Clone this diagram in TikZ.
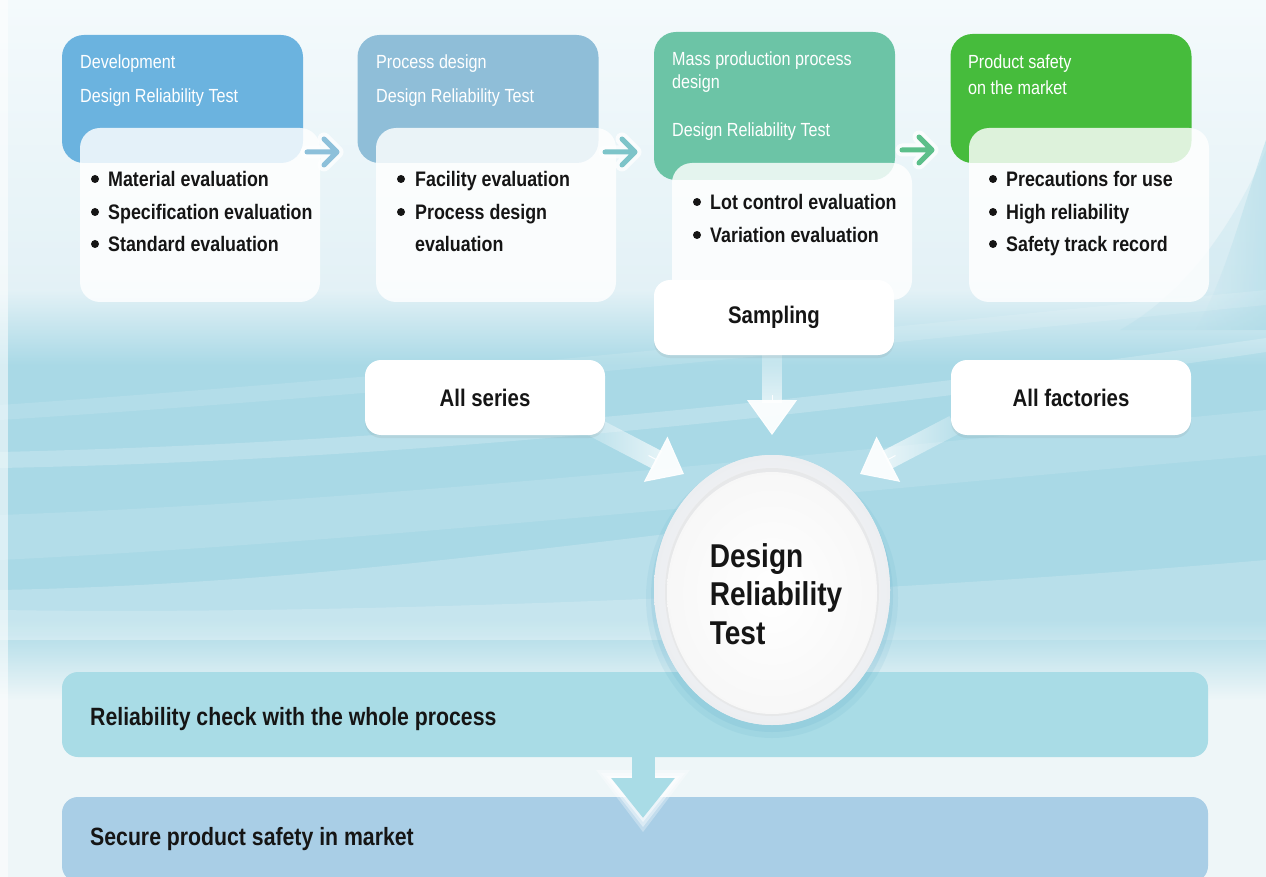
\documentclass[tikz,border=0pt]{standalone}
\usepackage{fontspec}
\setmainfont{Liberation Sans}
\newfontfamily\cond[FakeStretch=0.85]{Liberation Sans}
\usetikzlibrary{shapes.geometric,arrows.meta,shadows,fadings,calc}
\definecolor{bgtop}{HTML}{F4FAFC}
\definecolor{bgmid}{HTML}{E3F1F6}
\definecolor{cyanbg}{HTML}{A9D9E6}
\definecolor{bglow}{HTML}{EEF6F8}
\definecolor{hA}{HTML}{6BB3DF}
\definecolor{hB}{HTML}{8FBED8}
\definecolor{hC}{HTML}{6CC4A6}
\definecolor{hD}{HTML}{46BC3C}
\definecolor{arA}{HTML}{8DC0DA}
\definecolor{arB}{HTML}{7DC4C9}
\definecolor{arC}{HTML}{5CBF8A}
\definecolor{bandA}{HTML}{A9DCE6}
\definecolor{bandB}{HTML}{A9CEE6}
\definecolor{ink}{HTML}{151515}
\definecolor{ringc}{HTML}{ECEEF1}
\definecolor{glowc}{HTML}{5AA9C8}
\tikzfading[name=fadeD, top color=transparent!85, bottom color=transparent!25]
\tikzfading[name=fadeR, left color=transparent!85, right color=transparent!25]
\tikzfading[name=fadeL, right color=transparent!85, left color=transparent!25]
\tikzfading[name=fadeRt, left color=transparent!100, right color=transparent!0]
\begin{document}
\begin{tikzpicture}[x=1pt,y=-1pt,
  hdr/.style={rectangle, rounded corners=22pt, minimum width=241pt, minimum height=128pt, inner sep=0pt},
  cbox/.style={rectangle, rounded corners=20pt, minimum width=240pt, minimum height=174pt, inner sep=0pt, fill=white, fill opacity=.82},
  htxt/.style={anchor=base west, inner sep=0pt, text=white, font=\cond\fontsize{19}{21}\selectfont},
  btxt/.style={anchor=base west, inner sep=0pt, text=ink, font=\cond\bfseries\fontsize{21}{24}\selectfont},
  wbox/.style={rectangle, rounded corners=16pt, minimum width=240pt, minimum height=75pt, fill=white, inner sep=0pt, text=ink, font=\cond\bfseries\fontsize{24}{28}\selectfont, drop shadow={shadow xshift=0pt, shadow yshift=-3pt, opacity=.12}},
  chev/.style={line width=5pt, line cap=round, line join=round},
  halo/.style={line width=13pt, line cap=round, line join=round, white, opacity=.75},
  band/.style={rectangle, rounded corners=16pt, minimum width=1146pt, inner sep=0pt},
  bandtxt/.style={anchor=base west, inner sep=0pt, text=ink, font=\cond\bfseries\fontsize{25}{28}\selectfont},
  bul/.style={fill=ink}
]
\useasboundingbox (0,0) rectangle (1266,877);
% ---------- background ----------
\fill[top color=bgtop, bottom color=bgmid] (0,0) rectangle (1266,290);
\fill[top color=bgmid, bottom color=cyanbg] (0,290) rectangle (1266,365);
\fill[cyanbg] (0,365) rectangle (1266,620);
\fill[top color=cyanbg, bottom color=bglow] (0,620) rectangle (1266,700);
\fill[bglow] (0,700) rectangle (1266,877);
\fill[cyanbg, opacity=.5, path fading=fadeRt] (1266,140) .. controls (1245,200) and (1225,280) .. (1195,330) -- (1266,330) -- cycle;
\fill[cyanbg, opacity=.22] (1266,150) .. controls (1235,220) and (1190,290) .. (1120,330) -- (1266,330) -- cycle;
\fill[white, opacity=.2] (0,452) .. controls (300,445) and (700,420) .. (1266,338) -- (1266,352) .. controls (700,436) and (300,462) .. (0,468) -- cycle;
\fill[white, opacity=.12] (0,515) .. controls (400,500) and (800,455) .. (1266,410) -- (1266,455) .. controls (800,495) and (400,540) .. (0,560) -- cycle;
\fill[white, opacity=.12] (0,405) .. controls (500,370) and (900,325) .. (1266,290) -- (1266,305) .. controls (900,340) and (500,388) .. (0,420) -- cycle;
\fill[white, opacity=.2] (0,590) .. controls (250,585) and (450,560) .. (700,530) -- (700,640) -- (0,640) -- cycle;
\fill[white, opacity=.18] (0,610) .. controls (300,615) and (800,600) .. (1266,560) -- (1266,640) -- (0,640) -- cycle;
\fill[white, opacity=.55] (0,0) rectangle (8,877);
% ---------- bottom bands ----------
\node[band, fill=bandA, minimum height=85pt] (bandone) at (635,714.5) {};
\node[bandtxt] (bandonetxt) at (90,725) {Reliability check with the whole process};
\node[band, fill=bandB, minimum height=85pt] (bandtwo) at (635,839.5) {};
\node[bandtxt] (bandtwotxt) at (90,845) {Secure product safety in market};
\coordinate (bs) at (643,752);
\coordinate (bt) at (643,818);
\fill[white, opacity=.3] (596,770) -- (690,770) -- (643,832) -- cycle;
\fill[white, opacity=.4] (601,773) -- (685,773) -- (643,827) -- cycle;
\fill[white, opacity=.5] (606,776) -- (680,776) -- (643,822) -- cycle;
\draw[bandA, line width=23pt, -{Triangle[length=40pt,width=61pt]}] (bs) -- (bt);
% ---------- top headers ----------
\node[hdr, fill=hA] (hdone) at (182.5,99) {};
\node[hdr, fill=hB] (hdtwo) at (478,99) {};
\node[hdr, fill=hC, minimum height=148pt] (hdthree) at (774.5,106) {};
\node[hdr, fill=hD, minimum height=129pt] (hdfour) at (1071,98.5) {};
\node[cbox] (cone) at (200,215) {};
\node[cbox] (ctwo) at (496,215) {};
\node[cbox, minimum height=137pt] (cthree) at (792,231.5) {};
\node[cbox] (cfour) at (1089,215) {};
% header texts
\node[htxt] (ta1) at (80,69) {Development};
\node[htxt] (ta2) at (80,103) {Design Reliability Test};
\node[htxt] (tb1) at (376,69) {Process design};
\node[htxt] (tb2) at (376,103) {Design Reliability Test};
\node[htxt] (tc1) at (672,66) {Mass production process};
\node[htxt] (tc2) at (672,89) {design};
\node[htxt] (tc3) at (672,137) {Design Reliability Test};
\node[htxt] (td1) at (968,69) {Product safety};
\node[htxt] (td2) at (968,95) {on the market};
% bullets box 1
\fill[bul] (95,179) circle (4);
\fill[bul] (95,212) circle (4);
\fill[bul] (95,244) circle (4);
\node[btxt] (ba1) at (108,187) {Material evaluation};
\node[btxt] (ba2) at (108,220) {Specification evaluation};
\node[btxt] (ba3) at (108,252) {Standard evaluation};
% bullets box 2
\fill[bul] (401,179) circle (4);
\fill[bul] (401,212) circle (4);
\node[btxt] (bb1) at (415,187) {Facility evaluation};
\node[btxt] (bb2) at (415,220) {Process design};
\node[btxt] (bb3) at (415,252) {evaluation};
% bullets box 3
\fill[bul] (697,202) circle (4);
\fill[bul] (697,235) circle (4);
\node[btxt] (bc1) at (710,210) {Lot control evaluation};
\node[btxt] (bc2) at (710,243) {Variation evaluation};
% bullets box 4
\fill[bul] (993,179) circle (4);
\fill[bul] (993,212) circle (4);
\fill[bul] (993,244) circle (4);
\node[btxt] (bd1) at (1006,187) {Precautions for use};
\node[btxt] (bd2) at (1006,220) {High reliability};
\node[btxt] (bd3) at (1006,252) {Safety track record};
% chevron arrows
\coordinate (a1s) at (307,152); \coordinate (a1e) at (337,152);
\coordinate (a2s) at (605,152); \coordinate (a2e) at (635,152);
\coordinate (a3s) at (902,150); \coordinate (a3e) at (932,150);
\foreach \s/\e/\c in {a1s/a1e/arA, a2s/a2e/arB, a3s/a3e/arC}{
  \draw[halo] (\s) -- (\e) ($(\e)+(-13,-13)$) -- (\e) -- ($(\e)+(-13,13)$);
  \draw[chev, \c] (\s) -- (\e) ($(\e)+(-13,-13)$) -- (\e) -- ($(\e)+(-13,13)$);
}
% ---------- big white arrows ----------
\coordinate (sT) at (772,435);
\coordinate (lT) at (684,474);
\coordinate (lS) at (590,425);
\coordinate (rT) at (860,474);
\coordinate (rS) at (954,425);
\coordinate (sS) at (772,350);
\draw[white, line width=20pt, path fading=fadeD] (sS) -- ($(sT)+(0,-32)$);
\draw[white, opacity=.92, line width=1pt, -{Triangle[length=35pt,width=50pt]}] ($(sT)+(0,-40)$) -- (sT);
\draw[white, line width=20pt, path fading=fadeR] (lS) -- ($(lT)!30pt!(lS)$);
\draw[white, opacity=.92, line width=1pt, -{Triangle[length=32pt,width=51pt]}] ($(lT)!40pt!(lS)$) -- (lT);
\draw[white, line width=20pt, path fading=fadeL] (rS) -- ($(rT)!30pt!(rS)$);
\draw[white, opacity=.92, line width=1pt, -{Triangle[length=32pt,width=51pt]}] ($(rT)!40pt!(rS)$) -- (rT);
% ---------- white boxes ----------
\node[wbox] (samp) at (774,317.5) {Sampling};
\node[wbox] (allser) at (485,397.5) {All series};
\node[wbox] (allfac) at (1071,397.5) {All factories};
% ---------- central ellipse ----------
\fill[glowc, opacity=.10] (772,598) ellipse [x radius=126, y radius=140];
\fill[glowc, opacity=.14] (772,596) ellipse [x radius=121, y radius=136];
\node[ellipse, fill=ringc, minimum width=236pt, minimum height=270pt, inner sep=0pt] (drt) at (772,590) {};
\shade[inner color=white, outer color=ringc] (772,590) ellipse [x radius=118, y radius=135];
\fill[black!12, opacity=.45] (772,592) ellipse [x radius=107, y radius=124];
\shade[inner color=white, outer color=white!97!black] (772,593) ellipse [x radius=105, y radius=121];
\node[align=left, inner sep=0pt, text=ink, font=\cond\bfseries\fontsize{33}{38.5}\selectfont] (drtlabel) at (776,594) {Design\\Reliability\\Test};
\end{tikzpicture}
\end{document}
